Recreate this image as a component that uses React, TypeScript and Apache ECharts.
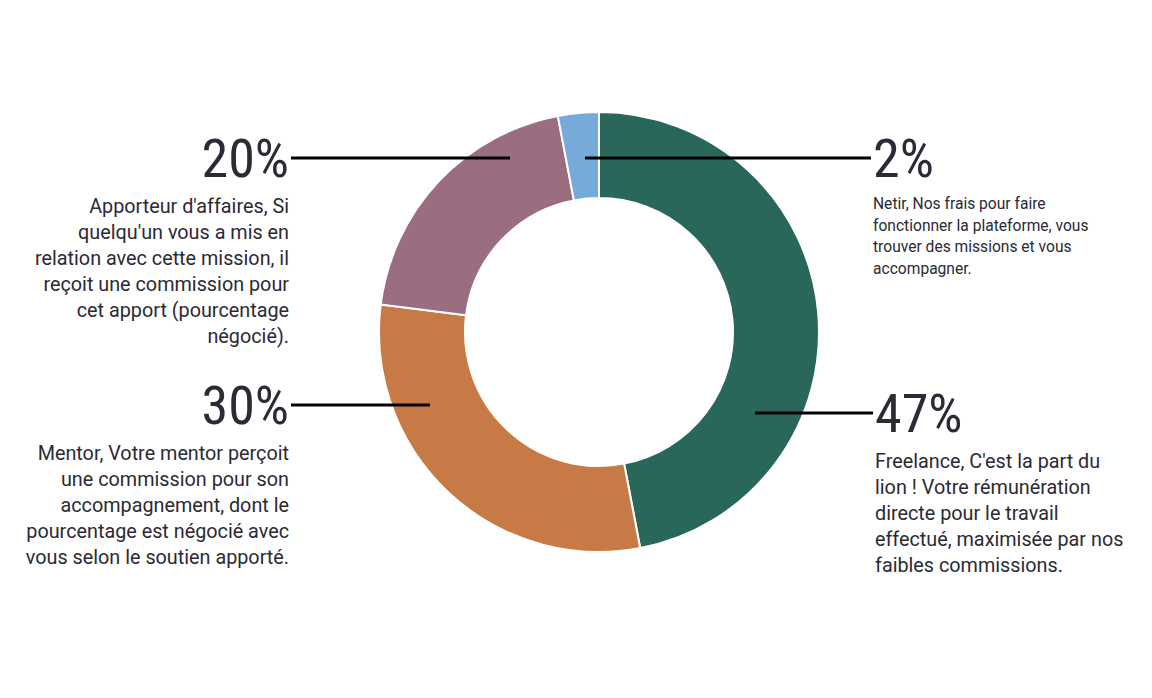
import React, { useEffect, useRef } from "react";
import * as echarts from "echarts";

const categories = ["Freelance", "Mentor", "Apporteur d'affaires", "Netir"];
const values = [47, 30, 20, 3];
const percentLabels = ["47%", "30%", "20%", "2%"];
const descriptions = [
  "Freelance, C'est la part du\nlion ! Votre rémunération\ndirecte pour le travail\neffectué, maximisée par nos\nfaibles commissions.",
  "Mentor, Votre mentor perçoit\nune commission pour son\naccompagnement, dont le\npourcentage est négocié avec\nvous selon le soutien apporté.",
  "Apporteur d'affaires, Si\nquelqu'un vous a mis en\nrelation avec cette mission, il\nreçoit une commission pour\ncet apport (pourcentage\nnégocié).",
  "Netir, Nos frais pour faire\nfonctionner la plateforme, vous\ntrouver des missions et vous\naccompagner.",
];
const colors = ["#29675b", "#c77a45", "#9b6d81", "#75aad9"];

const FONT = "'Roboto Condensed', 'Liberation Sans Narrow', 'DejaVu Sans Condensed', Roboto, sans-serif";
const DFONT = "Roboto, sans-serif";
const NUM_LH = 70;
const TXT = "#2b2a35";

// label anchor (x, lineY), side, and where the leader line ends inside the ring
const layout = [
  { x: 875, y: 413, side: "left", lx: 755, desc: "descR" },
  { x: 289, y: 405, side: "right", lx: 430, desc: "descL" },
  { x: 289, y: 158, side: "right", lx: 510, desc: "descL" },
  { x: 873, y: 158, side: "left", lx: 585, desc: "descS" },
];

export default function App() {
  const ref = useRef<HTMLDivElement>(null);
  useEffect(() => {
    document.body.style.margin = "0";
    const chart = echarts.init(ref.current!, null, { renderer: "svg" });
    const data = categories.map((c, i) => ({
      name: c,
      value: values[i],
      itemStyle: { color: colors[i] },
    }));
    const common = {
      type: "pie",
      center: [599, 332],
      radius: [134, 220],
      startAngle: 90,
      clockwise: true,
      silent: true,
      emphasis: { disabled: true },
    };
    chart.setOption({
      animation: false,
      backgroundColor: "#ffffff",
      series: [
        {
          ...common,
          z: 2,
          itemStyle: { borderColor: "#ffffff", borderWidth: 2 },
          data,
          label: { show: false },
          labelLine: { show: false },
        },
        {
          ...common,
          z: 5,
          itemStyle: { color: "rgba(0,0,0,0)", borderWidth: 0 },
          data: categories.map((c, i) => ({
            name: c,
            value: values[i],
            itemStyle: { color: "rgba(0,0,0,0)" },
          })),
          label: {
            show: true,
            position: "outside",
            fontFamily: FONT,
            color: TXT,
            formatter: (p: any) => {
              const i = p.dataIndex;
              const s = layout[i].side === "left" ? "R" : "L";
              return `{num${s}|${percentLabels[i]}}\n{${layout[i].desc}|${descriptions[i]}}`;
            },
            rich: {
              numL: { fontSize: 54, lineHeight: NUM_LH, fontFamily: FONT, color: TXT, align: "right" },
              numR: { fontSize: 54, lineHeight: NUM_LH, fontFamily: FONT, color: TXT, align: "left" },
              descL: { fontSize: 19.8, lineHeight: 26, fontFamily: DFONT, color: TXT, align: "right" },
              descR: { fontSize: 19.8, lineHeight: 26, fontFamily: DFONT, color: TXT, align: "left" },
              descS: { fontSize: 15.6, lineHeight: 21.7, fontFamily: DFONT, color: TXT, align: "left" },
            },
          },
          labelLine: {
            show: true,
            lineStyle: { color: "#000000", width: 3 },
          },
          labelLayout: (p: any) => {
            const c = layout[p.dataIndex];
            const gap = c.side === "left" ? -2 : 2;
            return {
              x: c.x,
              y: c.y - NUM_LH / 2,
              align: c.side === "left" ? "left" : "right",
              verticalAlign: "top",
              labelLinePoints: [
                [c.lx, c.y],
                [c.x + gap, c.y],
              ],
            };
          },
        },
      ],
    });
    return () => chart.dispose();
  }, []);
  return <div ref={ref} style={{ width: 1152, height: 698 }} />;
}
